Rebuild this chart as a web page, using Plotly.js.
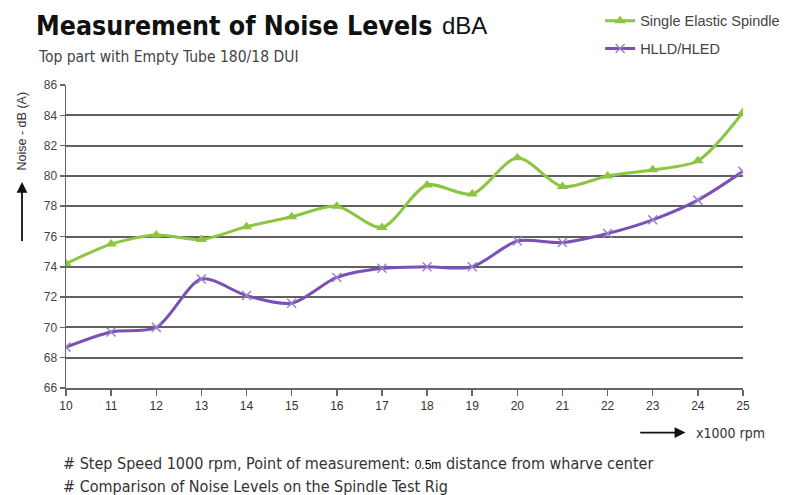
<!DOCTYPE html>
<html>
<head>
<meta charset="utf-8">
<script src="https://cdn.plot.ly/plotly-3.0.1.min.js"></script>
<style>html,body{margin:0;padding:0;background:#fff;}#chart{width:810px;height:495px;}</style>
</head>
<body>
<div id="chart"></div>
<script>
const speeds = [10, 11, 12, 13, 14, 15, 16, 17, 18, 19, 20, 21, 22, 23, 24, 25];
const singleElastic = [74.2, 75.5, 76.1, 75.8, 76.65, 77.3, 78.0, 76.6, 79.4, 78.8, 81.2, 79.3, 80.0, 80.4, 81.0, 84.2];
const hlldHled = [68.7, 69.7, 70.0, 73.2, 72.1, 71.6, 73.3, 73.9, 74.0, 74.0, 75.7, 75.6, 76.2, 77.1, 78.4, 80.3];
const yTicks = [66, 68, 70, 72, 74, 76, 78, 80, 82, 84, 86];

const narrow = "'DejaVu Sans Condensed', 'Liberation Sans Narrow', 'Liberation Sans', Arial, sans-serif";
const sans = "'Liberation Sans', Arial, sans-serif";

const traces = [
  {
    x: speeds, y: singleElastic, name: 'Single Elastic Spindle',
    type: 'scatter', mode: 'lines+markers', legendgroup: 'a',
    line: {color: '#8cc540', width: 3, shape: 'spline', smoothing: 0.8},
    marker: {symbol: 'triangle-up', size: 10, color: '#8cc540'}
  },
  {
    x: speeds, y: hlldHled, name: 'HLLD/HLED',
    type: 'scatter', mode: 'lines+markers', legendgroup: 'b',
    line: {color: '#7b4fb3', width: 3, shape: 'spline', smoothing: 0.8},
    marker: {symbol: 'x-thin', size: 9, color: '#9b7fd0', line: {color: '#9b7fd0', width: 1.5}}
  }
];

const layout = {
  width: 810, height: 495,
  margin: {l: 66, r: 67, t: 85, b: 107, autoexpand: false},
  paper_bgcolor: '#ffffff', plot_bgcolor: '#ffffff',
  showlegend: true,
  legend: {
    x: 0.789, y: 1.265, xanchor: 'left', yanchor: 'top',
    font: {family: sans, size: 14.5, color: '#444'},
    bgcolor: 'rgba(0,0,0,0)', traceorder: 'grouped', tracegroupgap: 6
  },
  xaxis: {
    range: [10, 25], tickvals: speeds, ticktext: speeds.map(String),
    showgrid: false, zeroline: false,
    showline: true, linecolor: '#666', linewidth: 1.5,
    ticks: 'outside', ticklen: 6, tickcolor: '#666', tickwidth: 1.5,
    tickfont: {family: sans, size: 12, color: '#333'},
    fixedrange: true, automargin: false
  },
  yaxis: {
    range: [66, 86], tickvals: yTicks, ticktext: yTicks.map(String),
    showgrid: true, gridcolor: '#606060', gridwidth: 2,
    zeroline: false, showline: true, linecolor: '#666', linewidth: 1.5,
    ticks: 'outside', ticklen: 5, tickcolor: '#666', tickwidth: 1.5,
    tickfont: {family: sans, size: 12, color: '#444'},
    fixedrange: true, automargin: false
  },
  annotations: [
    {xref: 'paper', yref: 'paper', x: -0.048, y: 1.198, xanchor: 'left', yanchor: 'middle',
     text: '<b>Measurement of Noise Levels</b>', showarrow: false,
     font: {family: narrow, size: 26.5, color: '#111'}},
    {xref: 'paper', yref: 'paper', x: 0.553, y: 1.198, xanchor: 'left', yanchor: 'middle',
     text: 'dBA', showarrow: false,
     font: {family: sans, size: 24, color: '#111'}},
    {xref: 'paper', yref: 'paper', x: -0.045, y: 1.092, xanchor: 'left', yanchor: 'middle',
     text: 'Top part with Empty Tube 180/18 DUI', showarrow: false,
     font: {family: narrow, size: 15.5, color: '#444'}},
    {xref: 'paper', yref: 'paper', x: -0.065, y: 0.85, xanchor: 'center', yanchor: 'middle',
     text: 'Noise - dB (A)', textangle: -90, showarrow: false,
     font: {family: sans, size: 12.5, color: '#333'}},
    {xref: 'paper', yref: 'paper', x: -0.065, y: 0.68, ax: -0.065, ay: 0.48,
     axref: 'paper', ayref: 'paper', text: '', showarrow: true,
     arrowhead: 2, arrowsize: 1.2, arrowwidth: 1.8, arrowcolor: '#111'},
    {xref: 'paper', yref: 'paper', x: 0.915, y: -0.147, ax: 0.846, ay: -0.147,
     axref: 'paper', ayref: 'paper', text: '', showarrow: true,
     arrowhead: 2, arrowsize: 1.2, arrowwidth: 1.8, arrowcolor: '#111'},
    {xref: 'paper', yref: 'paper', x: 0.927, y: -0.147, xanchor: 'left', yanchor: 'middle',
     text: 'x1000 rpm', showarrow: false,
     font: {family: narrow, size: 14, color: '#333'}},
    {xref: 'paper', yref: 'paper', x: -0.008, y: -0.248, xanchor: 'left', yanchor: 'middle',
     text: '# Step Speed 1000 rpm, Point of measurement: <span style="font-family:Liberation Sans, Arial;font-size:12px;color:#000">0.5m</span> distance from wharve center',
     showarrow: false, font: {family: narrow, size: 16, color: '#333'}},
    {xref: 'paper', yref: 'paper', x: -0.008, y: -0.324, xanchor: 'left', yanchor: 'middle',
     text: '# Comparison of Noise Levels on the Spindle Test Rig',
     showarrow: false, font: {family: narrow, size: 16, color: '#333'}}
  ]
};

Plotly.newPlot('chart', traces, layout, {displayModeBar: false, staticPlot: true});
</script>
</body>
</html>
